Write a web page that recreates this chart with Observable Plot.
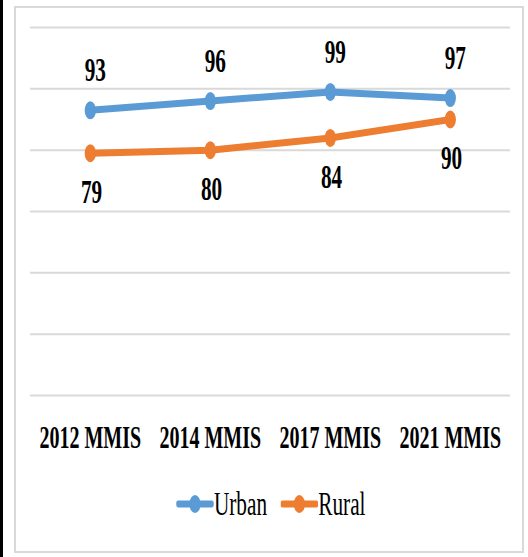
<!DOCTYPE html>
<html>
<head>
<meta charset="utf-8">
<script src="https://cdn.jsdelivr.net/npm/d3@7"></script>
<script src="https://cdn.jsdelivr.net/npm/@observablehq/plot@0.6"></script>
<style>
  html, body { margin: 0; padding: 0; background: #fff; }
  #root { position: relative; width: 528px; height: 557px; overflow: hidden; background: #fff; }
  #strip { position: absolute; left: 0; top: 0; width: 3px; height: 557px; background: #000; }
  #frame { position: absolute; left: 14px; top: 6px; width: 506px; height: 543px; border: 2px solid #d9d9d9; }
  #scaled { position: absolute; left: 0; top: 0; width: 845px; height: 557px; transform: scaleX(0.625); transform-origin: 0 0; }
  #legend { position: absolute; left: 0; top: 486px; width: 845px; height: 36px; box-sizing: border-box; padding-left: 22px; display: flex; align-items: center; justify-content: center; font-family: "Liberation Serif", serif; font-size: 34px; color: #000; }
  .item { display: flex; align-items: center; margin: 0 11px; }
  .item svg { display: block; }
</style>
</head>
<body>
<div id="root">
  <div id="strip"></div>
  <div id="frame"></div>
  <div id="scaled">
    <div id="chart"></div>
    <div id="legend"></div>
  </div>
</div>
<script>
const surveys = ["2012 MMIS", "2014 MMIS", "2017 MMIS", "2021 MMIS"];
const urban = [93, 96, 99, 97];
const rural = [79, 80, 84, 90];
const gridTicks = [0, 20, 40, 60, 80, 100, 120];
const seriesNames = ["Urban", "Rural"];
const seriesColors = ["#5b9bd5", "#ed7d31"];

const urbanData = surveys.map((s, i) => ({survey: s, value: urban[i]}));
const ruralData = surveys.map((s, i) => ({survey: s, value: rural[i]}));

const font = "Liberation Serif, Times New Roman, serif";

const plot = Plot.plot({
  width: 845,
  height: 470,
  marginLeft: 48,
  marginRight: 29,
  marginTop: 27,
  marginBottom: 75,
  style: {fontFamily: font, background: "transparent", color: "#000"},
  x: {type: "point", domain: surveys, padding: 0.5},
  y: {domain: [0, 120], axis: null},
  marks: [
    Plot.ruleY(gridTicks, {stroke: "#d9d9d9", strokeWidth: 2}),
    Plot.axisX({tickSize: 0, tickPadding: 30, fontSize: 32, fontWeight: "bold", fill: "#000", label: null}),
    Plot.line(urbanData, {x: "survey", y: "value", stroke: seriesColors[0], strokeWidth: 7, strokeLinecap: "round", strokeLinejoin: "round"}),
    Plot.line(ruralData, {x: "survey", y: "value", stroke: seriesColors[1], strokeWidth: 7, strokeLinecap: "round", strokeLinejoin: "round"}),
    Plot.dot(urbanData, {x: "survey", y: "value", r: 9, fill: seriesColors[0]}),
    Plot.dot(ruralData, {x: "survey", y: "value", r: 9, fill: seriesColors[1]}),
    Plot.text(urbanData, {x: "survey", y: "value", text: d => String(d.value), dy: -40, dx: 8, fontSize: 34, fontWeight: "bold", fill: "#000"}),
    Plot.text(ruralData, {x: "survey", y: "value", text: d => String(d.value), dy: 39, dx: 2, fontSize: 34, fontWeight: "bold", fill: "#000"})
  ]
});
document.getElementById("chart").appendChild(plot);

const legend = document.getElementById("legend");
seriesNames.forEach((name, i) => {
  const item = document.createElement("div");
  item.className = "item";
  const sw = d3.create("svg").attr("width", 60).attr("height", 22);
  sw.append("line").attr("x1", 3).attr("x2", 57).attr("y1", 11).attr("y2", 11)
    .attr("stroke", seriesColors[i]).attr("stroke-width", 7).attr("stroke-linecap", "round");
  sw.append("circle").attr("cx", 30).attr("cy", 11).attr("r", 9).attr("fill", seriesColors[i]);
  item.appendChild(sw.node());
  const label = document.createElement("span");
  label.textContent = name;
  label.style.lineHeight = "36px";
  item.appendChild(label);
  legend.appendChild(item);
});
</script>
</body>
</html>
